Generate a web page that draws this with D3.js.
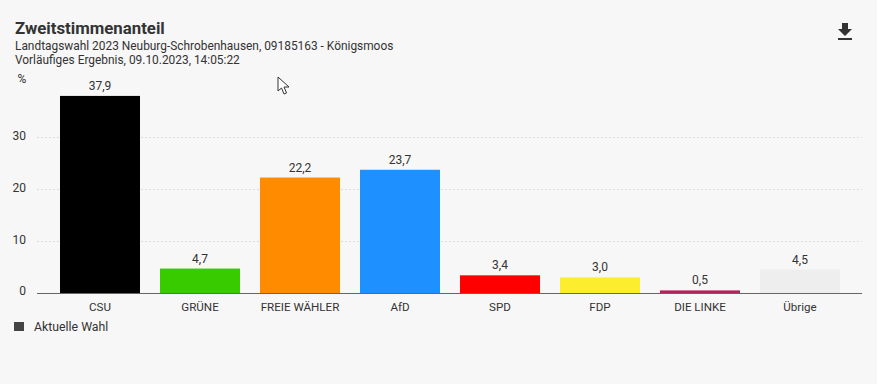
<!DOCTYPE html>
<html>
<head>
<meta charset="utf-8">
<script src="https://cdn.jsdelivr.net/npm/d3@7"></script>
<style>
  html, body { margin: 0; padding: 0; background: #fff; }
  svg { display: block; }
  text { font-family: Roboto, "Noto Sans", sans-serif; fill: #333; }
</style>
</head>
<body>
<div id="chart"></div>
<script>
const parties = ['CSU', 'GRÜNE', 'FREIE WÄHLER', 'AfD', 'SPD', 'FDP', 'DIE LINKE', 'Übrige']
const shares = [37.9, 4.7, 22.2, 23.7, 3.4, 3.0, 0.5, 4.5]
const colors = ['#000000', '#38cc00', '#ff8c00', '#1e90ff', '#ff0000', '#fcee2f', '#b3245f', '#eeeeee']
const yTicks = [0, 10, 20, 30]
const title = 'Zweitstimmenanteil'
const subtitle = ['Landtagswahl 2023 Neuburg-Schrobenhausen, 09185163 - Königsmoos', 'Vorläufiges Ergebnis, 09.10.2023, 14:05:22']
const legendLabel = 'Aktuelle Wahl'

const fmt = d3.format('.1f')
const comma = d => fmt(d).replace('.', ',')

const svg = d3.select('#chart').append('svg')
  .attr('width', 882)
  .attr('height', 387)

svg.append('rect')
  .attr('width', 877)
  .attr('height', 384)
  .attr('fill', '#f7f7f7')

svg.append('text')
  .attr('x', 15)
  .attr('y', 34)
  .attr('font-size', 16.8)
  .attr('font-weight', 700)
  .text(title)

svg.selectAll('.sub')
  .data(subtitle)
  .join('text')
  .attr('class', 'sub')
  .attr('x', 15)
  .attr('y', (d, i) => 50 + i * 14)
  .attr('font-size', 11.9)
  .text(d => d)

// download icon
svg.append('path')
  .attr('transform', 'translate(833,20)')
  .attr('fill', '#333')
  .attr('d', 'M19 9h-4V3H9v6H5l7 7 7-7zM5 18v2h14v-2H5z')

const x = d3.scaleBand()
  .domain(parties)
  .range([50, 850])
  .paddingInner(0.2)
  .paddingOuter(0.1)

const y = d3.scaleLinear()
  .domain([0, 30])
  .range([293, 137])

// horizontal grid
svg.append('g')
  .selectAll('line')
  .data(yTicks.filter(d => d > 0))
  .join('line')
  .attr('x1', 37)
  .attr('x2', 862)
  .attr('y1', d => y(d) + 0.5)
  .attr('y2', d => y(d) + 0.5)
  .attr('stroke', '#ddd')
  .attr('stroke-dasharray', '2,2')

svg.append('g')
  .selectAll('rect')
  .data(parties)
  .join('rect')
  .attr('x', d => x(d))
  .attr('width', x.bandwidth())
  .attr('y', (d, i) => y(shares[i]))
  .attr('height', (d, i) => y(0) - y(shares[i]))
  .attr('fill', (d, i) => colors[i])

svg.append('g')
  .selectAll('text')
  .data(parties)
  .join('text')
  .attr('x', d => x(d) + x.bandwidth() / 2)
  .attr('y', (d, i) => y(shares[i]) - 6)
  .attr('text-anchor', 'middle')
  .attr('font-size', 12)
  .text((d, i) => comma(shares[i]))

const xAxis = svg.append('g')
  .attr('transform', 'translate(0,' + y(0) + ')')
  .call(d3.axisBottom(x).tickSize(0).tickPadding(10))
xAxis.select('.domain').remove()
xAxis.selectAll('text').attr('font-size', 11.6).attr('font-family', null)
xAxis.append('line')
  .attr('x1', 37)
  .attr('x2', 862)
  .attr('y1', 0.5)
  .attr('y2', 0.5)
  .attr('stroke', '#666')

const yAxis = svg.append('g')
  .attr('transform', 'translate(26,0)')
  .call(d3.axisLeft(y).tickValues(yTicks).tickSize(0).tickPadding(0))
yAxis.select('.domain').remove()
yAxis.selectAll('text')
  .attr('font-size', 12)
  .attr('font-family', null)
  .attr('transform', d => d === 0 ? 'translate(0,-2)' : 'translate(0,-1)')

svg.append('text')
  .attr('x', 22)
  .attr('y', 83)
  .attr('text-anchor', 'middle')
  .attr('font-size', 12)
  .text('%')

// legend
svg.append('rect')
  .attr('x', 14)
  .attr('y', 322)
  .attr('width', 10)
  .attr('height', 9)
  .attr('fill', '#444')
svg.append('text')
  .attr('x', 34)
  .attr('y', 331)
  .attr('font-size', 12.3)
  .text(legendLabel)

// mouse pointer caught in the screenshot
svg.append('path')
  .attr('transform', 'translate(278,77)')
  .attr('fill', '#fff')
  .attr('stroke', '#333')
  .attr('d', 'M0 0V14L3.5 11L6 17L8.5 16L6 10H11Z')
</script>
</body>
</html>
